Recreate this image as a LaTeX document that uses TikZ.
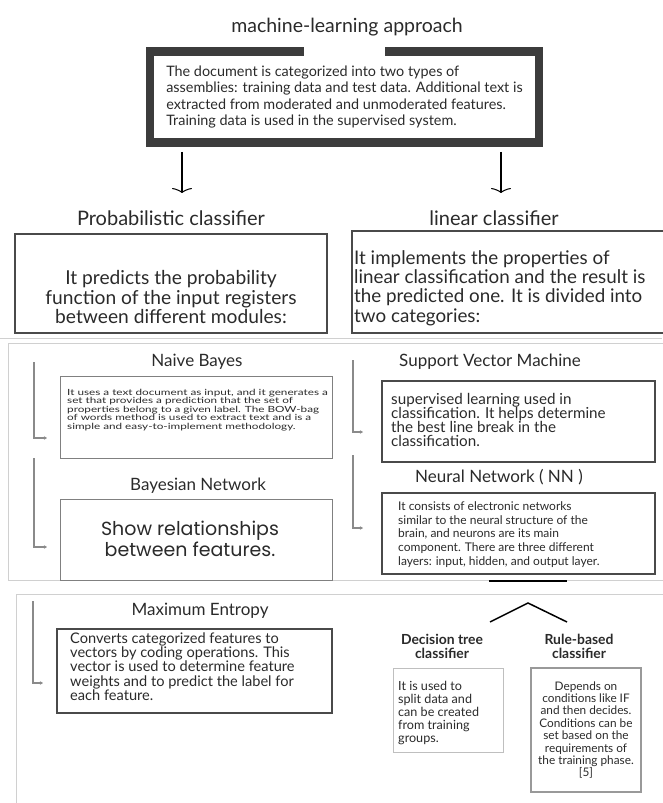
\documentclass[tikz,border=0pt]{standalone}
\usepackage{fontspec}
\setmainfont{Lato}
\newfontfamily\geofont{Poppins}
\newfontfamily\widefont[FakeStretch=1.38]{Lato}
\usepackage{tikz}
\usetikzlibrary{positioning, arrows.meta, calc}
\definecolor{frame_dark}{HTML}{3C3C3C}
\definecolor{box_grey}{HTML}{4A4A4A}
\definecolor{panel_grey}{HTML}{D0D0D0}
\definecolor{link_grey}{HTML}{8A8A8A}
\definecolor{txt_dark}{HTML}{2A2A2A}
\tikzstyle{arrow} = [line width=1.3pt, -{Classical TikZ Rightarrow[length=5pt,width=20pt]}]
\tikzstyle{link} = [link_grey, line width=1.1pt, -{Stealth[length=3pt,width=3.5pt]}]
\tikzstyle{panel} = [draw=panel_grey, line width=0.8pt]
\tikzstyle{classbox} = [draw=box_grey, line width=1.2pt, inner sep=0pt]
\tikzstyle{heading} = [text=txt_dark, inner sep=0pt, font=\fontsize{17}{19}\selectfont]
\tikzstyle{bodytxt} = [text=txt_dark, inner sep=0pt, anchor=west, align=left]

\begin{document}
\begin{tikzpicture}[x=1pt, y=-1pt]
        \useasboundingbox (0,0) rectangle (662,803);

        \node (mltitle) [text=txt_dark, font=\fontsize{19.5}{22}\selectfont] at (347,27) {machine-learning approach};
        \node (mlbox) [draw=frame_dark, line width=8.5pt, minimum width=389pt, minimum height=91pt, inner sep=0pt, align=left, text=txt_dark, font=\fontsize{14.4}{16.3}\selectfont] at (344.5,97) {The document is categorized into two types of\\assemblies: training data and test data. Additional text is\\extracted from moderated and unmoderated features.\\Training data is used in the supervised system.};
        \fill[white] (304,44) rectangle (385,57);

        \node (problbl) [text=txt_dark, font=\fontsize{20}{22}\selectfont] at (171,218) {Probabilistic classifier};
        \node (linlbl) [text=txt_dark, font=\fontsize{20}{22}\selectfont] at (494,218) {linear classifier};
        \coordinate (pa_end) at (182,193);
        \coordinate (la_end) at (501,193);
        \draw [arrow] ([yshift=-5pt]mlbox.south -| pa_end) -- (pa_end);
        \draw [arrow] ([yshift=-5pt]mlbox.south -| la_end) -- (la_end);

        \node (probbox) [classbox, minimum width=312pt, minimum height=99pt] at (171,283.5) {};
        \node (probtxt) [text=txt_dark, inner sep=0pt, align=center, font=\fontsize{19.2}{19.5}\selectfont] at (171,297.5) {It predicts the probability\\function of the input registers\\between different modules:};
        \node (linbox) [classbox, minimum width=348pt, minimum height=102pt] at (526,282) {};
        \node (lintxt) [bodytxt, font=\fontsize{18.8}{19.2}\selectfont] at (354,288) {It implements the properties of\\linear classification and the result is\\the predicted one. It is divided into\\two categories:};

        \draw [panel] (0,338) -- (662,338);
        \draw [panel] (8,343) rectangle (675,580);
        \draw [panel] (16,594) rectangle (675,810);

        \node (nbtitle) [heading] at (197,362) {Naive Bayes};
        \node (nbbox) [classbox, draw=gray, line width=1pt, minimum width=272pt, minimum height=82pt] at (196,417) {};
        \node (nbtxt) [bodytxt, font=\widefont\fontsize{8.5}{8.6}\selectfont] at (67,410) {It uses a text document as input, and it generates a\\set that provides a prediction that the set of\\properties belong to a given label. The BOW-bag\\of words method is used to extract text and is a\\simple and easy-to-implement methodology.};

        \node (bntitle) [heading] at (198,486) {Bayesian Network};
        \node (bnbox) [classbox, draw=gray, line width=1pt, minimum width=272pt, minimum height=81pt] at (196,539.5) {};
        \node (bntxt) [text=txt_dark, inner sep=0pt, align=center, font=\geofont\fontsize{19}{18}\selectfont] at (190,539) {Show relationships\\between features.};

        \coordinate (nb_s) at (34,362);
        \coordinate (nb_e) at (47,438);
        \coordinate (bn_s) at (34,458);
        \coordinate (bn_e) at (47,547);
        \draw [link] (nb_s) |- (nb_e);
        \draw [link] (bn_s) |- (bn_e);

        \node (svmtitle) [heading] at (490,362) {Support Vector Machine};
        \node (svmbox) [classbox, minimum width=273pt, minimum height=81pt] at (518.5,421.5) {};
        \node (svmtxt) [bodytxt, font=\fontsize{15.2}{14}\selectfont] at (391,420) {supervised learning used in\\classification. It helps determine\\the best line break in the\\classification.};

        \node (nntitle) [heading] at (499,477) {Neural Network ( NN )};
        \node (nnbox) [classbox, minimum width=273pt, minimum height=81pt] at (518.5,533.5) {};
        \node (nntxt) [bodytxt, font=\fontsize{12}{13.7}\selectfont] at (398,534.5) {It consists of electronic networks\\similar to the neural structure of the\\brain, and neurons are its main\\component. There are three different\\layers: input, hidden, and output layer.};

        \coordinate (svm_s) at (353,360);
        \coordinate (svm_e) at (363,432);
        \coordinate (nn_s) at (353,455);
        \coordinate (nn_e) at (363,528);
        \draw [link] (svm_s) |- (svm_e);
        \draw [link] (nn_s) |- (nn_e);

        \draw [line width=2.5pt] (489,581) -- (567,581);

        \node (metitle) [heading] at (200,611) {Maximum Entropy};
        \node (mebox) [classbox, minimum width=275pt, minimum height=84pt] at (194.5,671) {};
        \node (metxt) [bodytxt, font=\fontsize{14.6}{14.3}\selectfont] at (70,666.5) {Converts categorized features to\\vectors by coding operations. This\\vector is used to determine feature\\weights and to predict the label for\\each feature.};
        \coordinate (me_s) at (33,601);
        \coordinate (me_e) at (43,683);
        \draw [link] (me_s) |- (me_e);

        \coordinate (fork_l) at (490,622);
        \coordinate (fork_t) at (528,603);
        \coordinate (fork_r) at (567,622);
        \draw [line width=1.5pt] (fork_l) -- (fork_t) -- (fork_r);

        \node (dttitle) [text=txt_dark, inner sep=0pt, align=center, font=\bfseries\fontsize{13.9}{14}\selectfont] at (442,646) {Decision tree\\classifier};
        \node (rbtitle) [text=txt_dark, inner sep=0pt, align=center, font=\bfseries\fontsize{13.9}{14}\selectfont] at (579,646) {Rule-based\\classifier};
        \node (dtbox) [classbox, draw=black!25, line width=1pt, minimum width=110pt, minimum height=84pt] at (448,710) {};
        \node (dttxt) [bodytxt, font=\fontsize{12.6}{13}\selectfont] at (398,713) {It is used to\\split data and\\can be created\\from training\\groups.};
        \node (rbbox) [classbox, draw=black!40, line width=1.2pt, minimum width=110pt, minimum height=124pt] at (586,730) {};
        \node (rbtxt) [text=txt_dark, inner sep=0pt, align=center, font=\fontsize{11.8}{12.4}\selectfont] at (586,730) {Depends on\\conditions like IF\\and then decides.\\Conditions can be\\set based on the\\requirements of\\the training phase.\\{[5]}};

    \end{tikzpicture}
\end{document}
